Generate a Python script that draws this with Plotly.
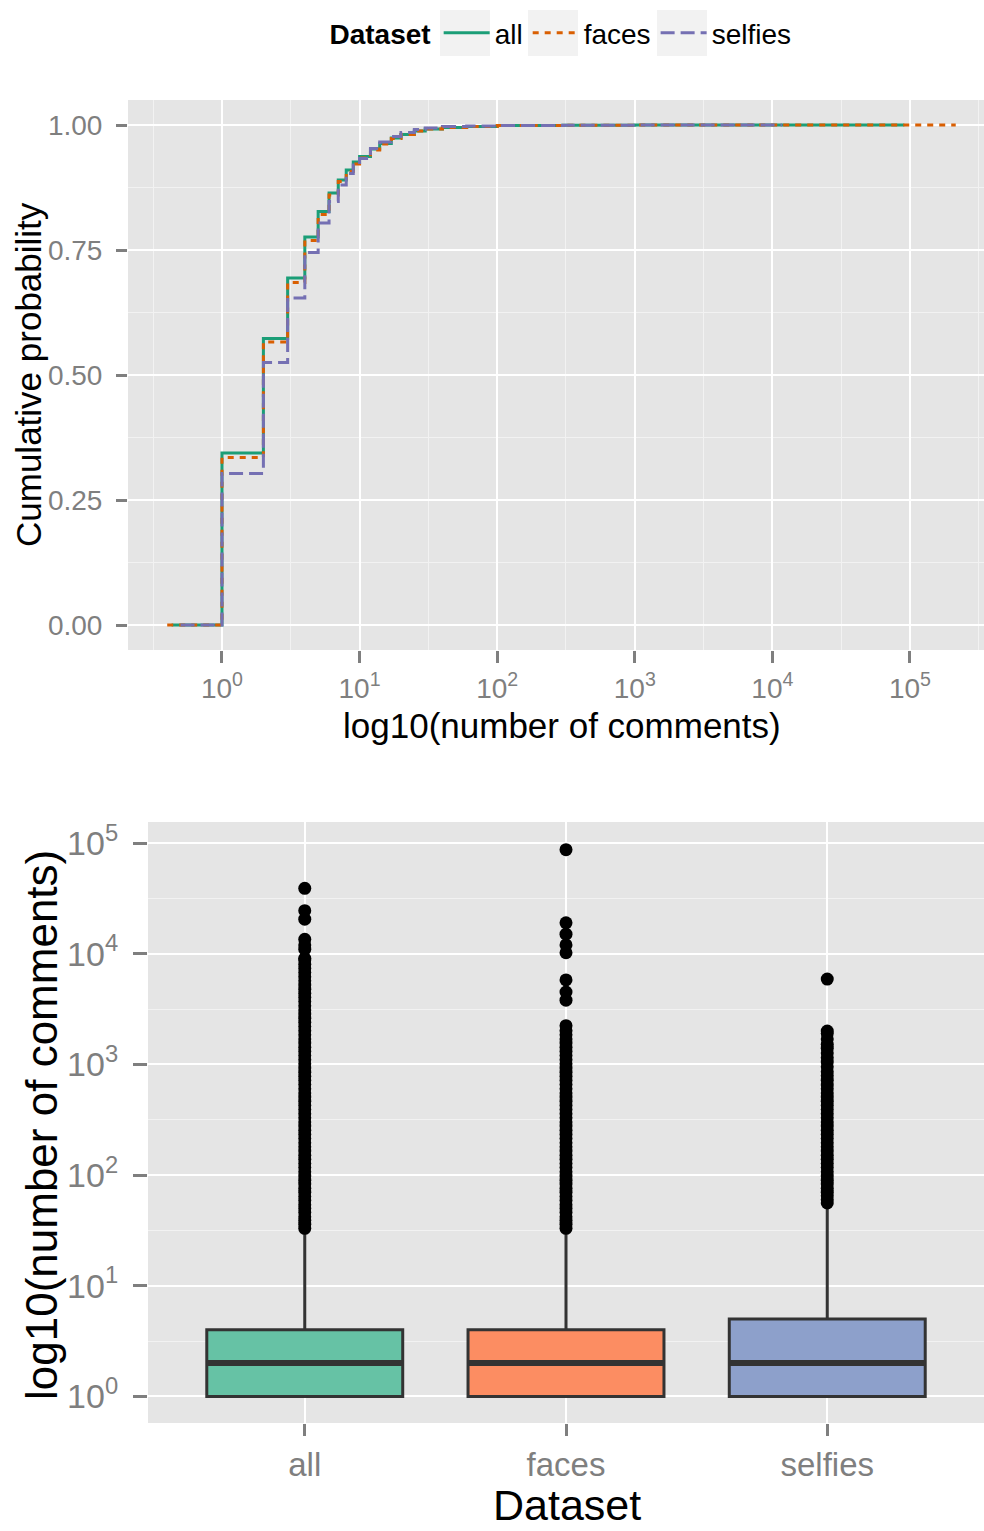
import plotly.graph_objects as go

# ---------------- data ----------------
datasets = ["all", "faces", "selfies"]
line_colors = ["#1B9E77", "#D95F02", "#7570B3"]
line_dashes = ["solid", "6px,6px", "14px,6px"]
box_fills = ["#66C2A5", "#FC8D62", "#8DA0CB"]

# ECDF: number of comments -> cumulative probability
all_x = [0.43, 1, 2, 3, 4, 5, 6, 7, 8, 9, 10, 12, 14, 17, 20, 25, 30, 40, 60, 100,
         300, 1000, 10000, 39000, 91000]
all_y = [0.0, 0.344, 0.573, 0.694, 0.776, 0.827, 0.864, 0.890, 0.910, 0.926, 0.937,
         0.952, 0.963, 0.974, 0.981, 0.988, 0.992, 0.995, 0.997, 0.999, 0.9996, 0.9999,
         0.99998, 1.0, 1.0]

faces_x = [0.40, 1, 2, 3, 4, 5, 6, 7, 8, 9, 10, 12, 14, 17, 20, 25, 30, 40, 60, 100,
           300, 1000, 10000, 87000, 215000]
faces_y = [0.0, 0.335, 0.566, 0.685, 0.769, 0.821, 0.860, 0.887, 0.907, 0.922, 0.934,
           0.950, 0.962, 0.973, 0.981, 0.988, 0.992, 0.995, 0.997, 0.999, 0.9996, 0.9999,
           0.99998, 1.0, 1.0]

selfies_x = [0.50, 1, 2, 3, 4, 5, 6, 7, 8, 9, 10, 12, 14, 17, 20, 25, 30, 40, 60, 100,
             300, 1000, 5800, 11800]
selfies_y = [0.0, 0.303, 0.525, 0.654, 0.745, 0.804, 0.847, 0.880, 0.903, 0.920, 0.933,
             0.953, 0.966, 0.977, 0.985, 0.991, 0.994, 0.997, 0.998, 0.999, 0.9997, 0.9999,
             1.0, 1.0]

# Box plot statistics (number of comments)
box_q1 = [1, 1, 1]
box_median = [2, 2, 2]
box_q3 = [4, 4, 5]
box_lower = [1, 1, 1]
box_upper = [32, 32, 55]

# Outliers (number of comments)
all_outliers = [33, 36, 39, 42, 46, 50, 54, 59, 64, 70, 76, 83, 90, 98, 107, 117, 127,
                139, 151, 165, 180, 196, 214, 233, 254, 277, 302, 329, 359, 391, 426,
                465, 507, 552, 602, 657, 716, 780, 851, 927, 1011, 1102, 1201, 1310,
                1428, 1557, 1697, 1850, 2017, 2199, 2397, 2613, 2849, 3106, 3386, 3691,
                4024, 4387, 4783, 5214, 5684, 6197, 6756, 7365, 8029, 8753, 9100,
                11000, 12000, 13500, 20500, 24500, 39000]
faces_outliers = [33, 36, 39, 42, 46, 50, 54, 59, 64, 70, 76, 83, 90, 98, 107, 117, 127,
                  139, 151, 165, 180, 196, 214, 233, 254, 277, 302, 329, 359, 391, 426,
                  465, 507, 552, 602, 657, 716, 780, 851, 927, 1011, 1102, 1201, 1310,
                  1428, 1557, 1697, 1850, 2017, 2240, 3800, 4500, 5800, 10200, 12000,
                  15000, 19000, 87000]
selfies_outliers = [56, 60, 65, 70, 76, 83, 90, 98, 107, 117, 127, 139, 151, 165, 180,
                    196, 214, 233, 254, 277, 302, 329, 359, 391, 426, 465, 507, 552, 602,
                    650, 720, 790, 860, 950, 1050, 1150, 1270, 1400, 1520, 1700, 1900,
                    2000, 5900]

x_ticks = [1, 10, 100, 1000, 10000, 100000]
x_tick_text = ["10<sup>0</sup>", "10<sup>1</sup>", "10<sup>2</sup>", "10<sup>3</sup>",
               "10<sup>4</sup>", "10<sup>5</sup>"]
x_minor = [0.3162, 3.162, 31.62, 316.2, 3162, 31623, 316228]
y_ticks = [0.0, 0.25, 0.5, 0.75, 1.0]
y_tick_text = ["0.00", "0.25", "0.50", "0.75", "1.00"]
y_minor = [0.125, 0.375, 0.625, 0.875]

ecdf_x = [all_x, faces_x, selfies_x]
ecdf_y = [all_y, faces_y, selfies_y]
outliers = [all_outliers, faces_outliers, selfies_outliers]

FONT = "Liberation Sans, Arial, Helvetica, sans-serif"
GREY = "#7F7F7F"
W, H = 984, 1531

fig = go.Figure()

# ---------------- top panel: ECDF ----------------
for name, xs, ys, col, dash in zip(datasets, ecdf_x, ecdf_y, line_colors, line_dashes):
    fig.add_trace(go.Scatter(
        x=xs, y=ys, name=name, mode="lines", line_shape="hv",
        line=dict(color=col, width=3, dash=dash),
        xaxis="x", yaxis="y"))

# ---------------- bottom panel: box plot ----------------
for i, name in enumerate(datasets):
    fig.add_trace(go.Box(
        x=[name], q1=[box_q1[i]], median=[box_median[i]], q3=[box_q3[i]],
        lowerfence=[box_lower[i]], upperfence=[box_upper[i]],
        fillcolor=box_fills[i], line=dict(color="#333333", width=3),
        whiskerwidth=0, width=0.75, boxpoints=False, showlegend=False,
        hoverinfo="skip", xaxis="x2", yaxis="y2"))
    fig.add_trace(go.Scatter(
        x=[name] * len(outliers[i]), y=outliers[i], mode="markers",
        marker=dict(color="black", size=13), showlegend=False,
        xaxis="x2", yaxis="y2"))

# thicker median bars
fig.add_trace(go.Scatter(
    x=datasets, y=box_median, mode="markers", showlegend=False,
    marker=dict(symbol="line-ew", size=140, line=dict(color="#333333", width=6)),
    xaxis="x2", yaxis="y2"))

axis_common = dict(showline=False, zeroline=False, gridcolor="white", gridwidth=2,
                   ticks="outside", tickcolor=GREY, tickwidth=2.5, automargin=False)

# grey legend key backgrounds (pixel positions of the legend keys)
key_left_px = [440, 528, 657]
shapes = [dict(type="rect", xref="paper", yref="paper", layer="below",
               x0=k / W, x1=(k + 50) / W, y0=1 - 56 / H, y1=1 - 10 / H,
               fillcolor="#F2F2F2", line=dict(width=0))
          for k in key_left_px]

fig.update_layout(
    width=W, height=H,
    margin=dict(l=0, r=0, t=0, b=0),
    paper_bgcolor="white", plot_bgcolor="#E5E5E5",
    font=dict(family=FONT, color="black"),
    shapes=shapes,
    xaxis=dict(domain=[128 / W, 1.0], type="log", range=[-0.683, 5.538],
               tickvals=x_ticks, ticktext=x_tick_text, ticklen=12, ticklabelstandoff=1,
               tickfont=dict(size=28, color=GREY),
               minor=dict(tickvals=x_minor, showgrid=True, gridcolor="#F2F2F2",
                          gridwidth=1, ticks=""),
               anchor="y", **axis_common),
    yaxis=dict(domain=[1 - 650 / H, 1 - 100 / H], range=[-0.05, 1.05],
               tickvals=y_ticks, ticktext=y_tick_text, ticklen=11, ticklabelstandoff=8,
               tickfont=dict(size=28, color=GREY),
               minor=dict(tickvals=y_minor, showgrid=True, gridcolor="#F2F2F2",
                          gridwidth=1, ticks=""),
               anchor="x", **axis_common),
    xaxis2=dict(domain=[148 / W, 1.0], type="category", range=[-0.6, 2.6],
                categoryorder="array", categoryarray=datasets, ticklen=12,
                tickfont=dict(size=33, color=GREY), anchor="y2", **axis_common),
    yaxis2=dict(domain=[1 - 1423 / H, 1 - 822 / H], type="log", range=[-0.24, 5.19],
                tickvals=x_ticks, ticktext=x_tick_text, ticklen=14, ticklabelstandoff=8,
                tickfont=dict(size=34, color=GREY),
                minor=dict(tickvals=[3.162, 31.62, 316.2, 3162, 31623], showgrid=True,
                           gridcolor="#F2F2F2", gridwidth=1, ticks=""),
                anchor="x2", **axis_common),
    legend=dict(orientation="h", x=562 / W, xanchor="center", y=1 - 8 / H,
                yanchor="top", font=dict(size=28, color="black"),
                bgcolor="rgba(0,0,0,0)", itemwidth=46,
                title=dict(text="Dataset", font=dict(size=28, weight="bold"))),
    annotations=[
        dict(text="Cumulative probability", xref="paper", yref="paper",
             x=29 / W, y=1 - 375 / H, xanchor="center", yanchor="middle",
             textangle=-90, showarrow=False, font=dict(size=35, color="black")),
        dict(text="log10(number of comments)", xref="paper", yref="paper",
             x=562 / W, y=1 - 725 / H, xanchor="center", yanchor="middle",
             showarrow=False, font=dict(size=35, color="black")),
        dict(text="log10(number of comments)", xref="paper", yref="paper",
             x=41 / W, y=1 - 1125 / H, xanchor="center", yanchor="middle",
             textangle=-90, showarrow=False, font=dict(size=44, color="black")),
        dict(text="Dataset", xref="paper", yref="paper",
             x=567 / W, y=1 - 1505 / H, xanchor="center", yanchor="middle",
             showarrow=False, font=dict(size=43, color="black")),
    ],
)

fig.write_html("out.html")
